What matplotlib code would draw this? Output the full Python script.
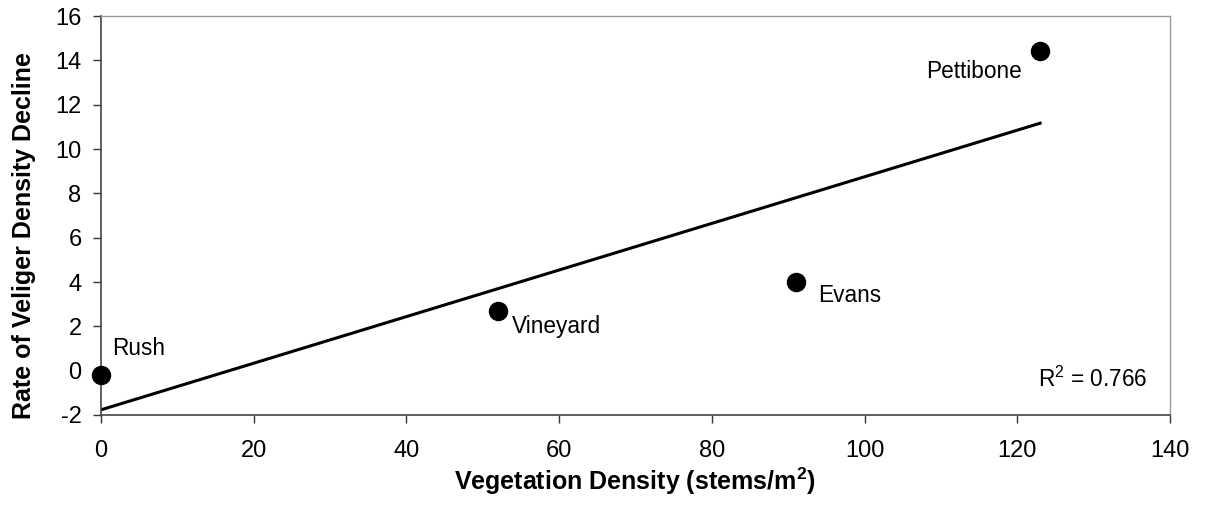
import numpy as np
import matplotlib.pyplot as plt

plt.rcParams['font.family'] = ['Liberation Sans', 'DejaVu Sans']
plt.rcParams['axes.unicode_minus'] = False
plt.rcParams['mathtext.fontset'] = 'custom'
plt.rcParams['mathtext.rm'] = 'Liberation Sans'
plt.rcParams['mathtext.bf'] = 'Liberation Sans:bold'

# data
sites = ['Rush', 'Vineyard', 'Evans', 'Pettibone']
veg_density = [0, 52, 91, 123]
decline_rate = [-0.2, 2.7, 4.0, 14.4]
r2_text = '0.766'

# label offsets (points) and alignment per site
label_off = [(8, 19.5), (10, -11), (16, -9.5), (-13, -14.5)]
label_ha = ['left', 'left', 'left', 'right']

fig = plt.figure(figsize=(12.08, 5.17), dpi=100)
ax = fig.add_axes([0.0836, 0.1973, 0.8849, 0.7717])

x = np.array(veg_density)
y = np.array(decline_rate)

# linear trend line over the data range
m, c = np.polyfit(x, y, 1)
xs = np.array([x.min(), x.max()])
ax.plot(xs, m * xs + c, color='black', lw=2.2, zorder=2)

ax.plot(x, y, 'o', color='black', markersize=13, zorder=3, clip_on=False)

for name, xi, yi, off, ha in zip(sites, x, y, label_off, label_ha):
    ax.annotate(name, (xi, yi), xytext=off, textcoords='offset points',
                ha=ha, va='center', fontsize=16.3)

ax.text(0.9785, 0.07, r'R$^\mathregular{2}$ = ' + r2_text, transform=ax.transAxes,
        ha='right', va='baseline', fontsize=16.3)

ax.set_xlim(0, 140)
ax.set_ylim(-2, 16)
ax.set_xticks(range(0, 141, 20))
ax.set_yticks(range(-2, 17, 2))
ax.tick_params(direction='out', length=6, width=1, colors='#333333',
               labelcolor='black', labelsize=17)
ax.tick_params(axis='x', pad=12)
ax.tick_params(axis='y', pad=8)

for s in ['left', 'bottom']:
    ax.spines[s].set_color('#444444')
    ax.spines[s].set_linewidth(1.2)
for s in ['top', 'right']:
    ax.spines[s].set_color('#999999')
    ax.spines[s].set_linewidth(1)

fig.text(0.5257, 0.0696, r'Vegetation Density (stems/m$^\mathbf{2}$)', fontsize=18,
         fontweight='bold', ha='center', va='center')
fig.text(0.0199, 0.5435, 'Rate of Veliger Density Decline', fontsize=18,
         fontweight='bold', ha='center', va='center', rotation=90)

fig.savefig('out.png', dpi=100)
